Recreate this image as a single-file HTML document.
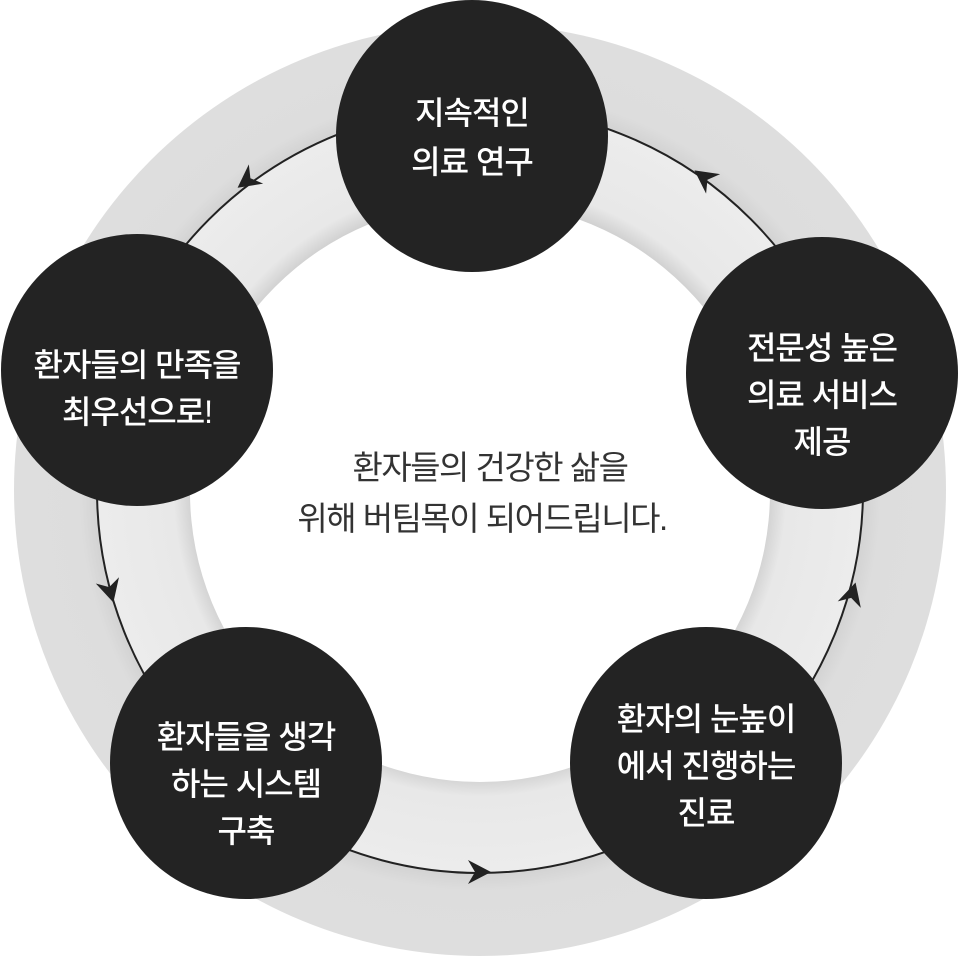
<!DOCTYPE html>
<html><head><meta charset="utf-8"><style>
html,body{margin:0;padding:0;background:#fff;}
svg{display:block;}
text{font-family:"Liberation Sans","Noto Sans CJK KR",sans-serif;}
</style></head><body>
<svg width="959" height="957" viewBox="0 0 959 957" xmlns="http://www.w3.org/2000/svg">
<defs>
<radialGradient id="g1" cx="480" cy="490" r="466" gradientUnits="userSpaceOnUse">
<stop offset="0.82" stop-color="#d2d2d2"/><stop offset="0.86" stop-color="#dddddd"/><stop offset="1" stop-color="#dedede"/>
</radialGradient>
<radialGradient id="g2" cx="480" cy="490" r="383" gradientUnits="userSpaceOnUse">
<stop offset="0.75" stop-color="#d0d0d0"/><stop offset="0.80" stop-color="#e8e8e8"/><stop offset="1" stop-color="#ececec"/>
</radialGradient>
</defs>
<circle cx="480" cy="490" r="466" fill="url(#g1)"/>
<circle cx="480" cy="490" r="383" fill="url(#g2)"/>
<circle cx="480" cy="492" r="290" fill="#fff"/>
<circle cx="480" cy="490" r="383" fill="none" stroke="#222" stroke-width="2"/>
<g fill="#222">
<polygon points="13,0 -10,-12 -3,0 -10,12" transform="translate(248,180) rotate(143.2)"/>
<polygon points="13,0 -10,-12 -3,0 -10,12" transform="translate(110,590) rotate(74.9)"/>
<polygon points="13,0 -10,-12 -3,0 -10,12" transform="translate(478,872) rotate(0)"/>
<polygon points="13,0 -10,-12 -3,0 -10,12" transform="translate(852,595) rotate(-74.2)"/>
<polygon points="13,0 -10,-12 -3,0 -10,12" transform="translate(705,178) rotate(-144.2)"/>
</g>
<g fill="#232323">
<circle cx="472" cy="136" r="136"/>
<circle cx="822" cy="373" r="136"/>
<circle cx="706" cy="763" r="136"/>
<circle cx="246" cy="763" r="136"/>
<circle cx="137" cy="370" r="136"/>
</g>
<g fill="#fff" font-size="32" font-weight="500" text-anchor="middle" letter-spacing="-1">
<text x="472" y="124">지속적인</text>
<text x="472" y="173">의료 연구</text>
<text x="822" y="359">전문성 높은</text>
<text x="822" y="406">의료 서비스</text>
<text x="822" y="453">제공</text>
<text x="706" y="730">환자의 눈높이</text>
<text x="706" y="777">에서 진행하는</text>
<text x="706" y="824">진료</text>
<text x="246" y="748">환자들을 생각</text>
<text x="246" y="795">하는 시스템</text>
<text x="246" y="842">구축</text>
<text x="137" y="376">환자들의 만족을</text>
<text x="137" y="423">최우선으로!</text>
</g>
<g fill="#333" font-size="33" text-anchor="middle" letter-spacing="-1.5">
<text x="490" y="479">환자들의 건강한 삶을</text>
<text x="482" y="530">위해 버팀목이 되어드립니다.</text>
</g>
</svg>
</body></html>
